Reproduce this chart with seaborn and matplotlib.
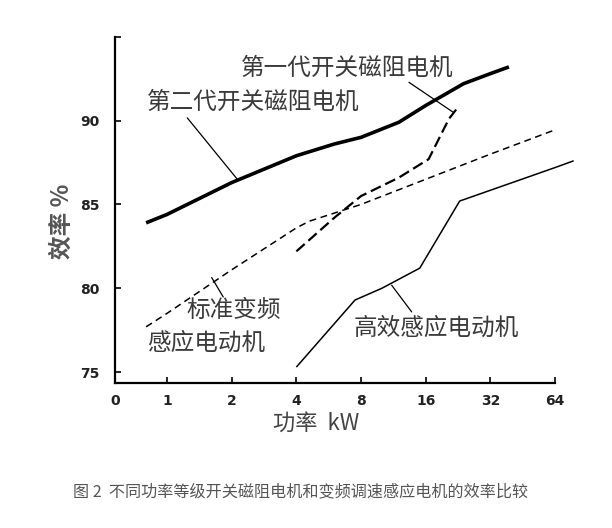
import numpy as np
import pandas as pd
import seaborn as sns
import matplotlib.pyplot as plt

# Данные: мощность (кВт) и КПД (%)
gen2_kw = [0.8, 1, 2, 4, 6, 8, 12, 16, 24, 32, 39]
gen2_eff = [83.9, 84.4, 86.3, 87.9, 88.6, 89.0, 89.9, 90.9, 92.2, 92.8, 93.2]
gen1_kw = [4, 6, 8, 12, 16.5, 20.5, 22.6]
gen1_eff = [82.2, 84.2, 85.5, 86.6, 87.7, 90.1, 90.8]
std_kw = [0.8, 1, 2, 4, 4.6, 8, 16, 32, 64]
std_eff = [77.7, 78.5, 81.1, 83.6, 84.0, 85.0, 86.5, 88.0, 89.45]
hi_kw = [4, 7.5, 10, 15, 23, 64, 78]
hi_eff = [75.3, 79.3, 80.0, 81.2, 85.2, 87.2, 87.6]

x_ticks = [0, 1, 2, 4, 8, 16, 32, 64]
y_ticks = [75, 80, 85, 90]

CJK = ['Noto Sans CJK SC', 'DejaVu Sans']

sns.set_style('white')
plt.rcParams['font.family'] = CJK


def draw(ax, kw, eff, lw, dashes=None):
    sns.lineplot(x=np.log2(kw), y=eff, ax=ax, color='black', linewidth=lw,
                 estimator=None, clip_on=False)
    line = ax.lines[-1]
    line.set_solid_capstyle('butt')
    line.set_solid_joinstyle('round')
    if dashes:
        line.set_dashes(dashes)


def label(ax, text, text_xy):
    ax.text(text_xy[0], text_xy[1], text, ha='left', va='center',
            fontsize=17, color='#3a3a3a', family=CJK)


def leader(ax, xy, line_from):
    ax.annotate('', xy=xy, xytext=line_from,
                arrowprops=dict(arrowstyle='-', lw=0.9, color='black',
                                shrinkA=0, shrinkB=0))


fig = plt.figure(figsize=(6.12, 5.28), dpi=100)
ax = fig.add_axes([0.1882, 0.2746, 0.719, 0.6559])

draw(ax, gen2_kw, gen2_eff, 2.6)
draw(ax, gen1_kw, gen1_eff, 1.6, (5, 2.2))
draw(ax, std_kw, std_eff, 1.1, (4.5, 3))
draw(ax, hi_kw, hi_eff, 1.1)

ax.set_xlim(-0.8, 6.0)
ax.set_ylim(74.35, 95)
ax.set_xticks([-0.8] + list(np.log2(x_ticks[1:])))
ax.set_xticklabels([str(v) for v in x_ticks], family='DejaVu Sans',
                   fontweight='bold')
ax.set_yticks(y_ticks + [95])
ax.set_yticklabels([str(v) for v in y_ticks] + [''], family='DejaVu Sans',
                   fontweight='bold')
ax.tick_params(axis='both', direction='in', length=4, width=1.4,
               labelsize=10, labelcolor='#222222', bottom=True, left=True)
ax.tick_params(axis='y', pad=11)
ax.tick_params(axis='x', pad=8)
for side in ['top', 'right']:
    ax.spines[side].set_visible(False)
for side in ['left', 'bottom']:
    ax.spines[side].set_linewidth(1.6)
    ax.spines[side].set_color('black')
ax.set_xlabel('')
ax.set_ylabel('')

# Подписи кривых
label(ax, '第一代开关磁阻电机', (1.15, 93.1))
leader(ax, (4.425, 90.49), (3.74, 92.28))
label(ax, '第二代开关磁阻电机', (-0.31, 91.09))
leader(ax, (1.102, 86.43), (0.314, 90.16))
label(ax, '标准变频', (0.30, 78.69))
label(ax, '感应电动机', (-0.29, 76.73))
leader(ax, (0.691, 80.64), (0.87, 79.48))
label(ax, '高效感应电动机', (2.89, 77.62))
leader(ax, (3.473, 80.18), (3.782, 78.59))

fig.text(0.101, 0.58, '效率 %', rotation=90, ha='center', va='center',
         fontsize=17, fontweight='bold', color='#555555', family=CJK)
fig.text(0.516, 0.199, '功率  kW', ha='center', va='center',
         fontsize=16, color='#444444', family=CJK)
fig.text(0.119, 0.068, '图 2  不同功率等级开关磁阻电机和变频调速感应电机的效率比较',
         ha='left', va='center', fontsize=11.6, color='#555555', family=CJK)

fig.savefig('out.png', dpi=100)
